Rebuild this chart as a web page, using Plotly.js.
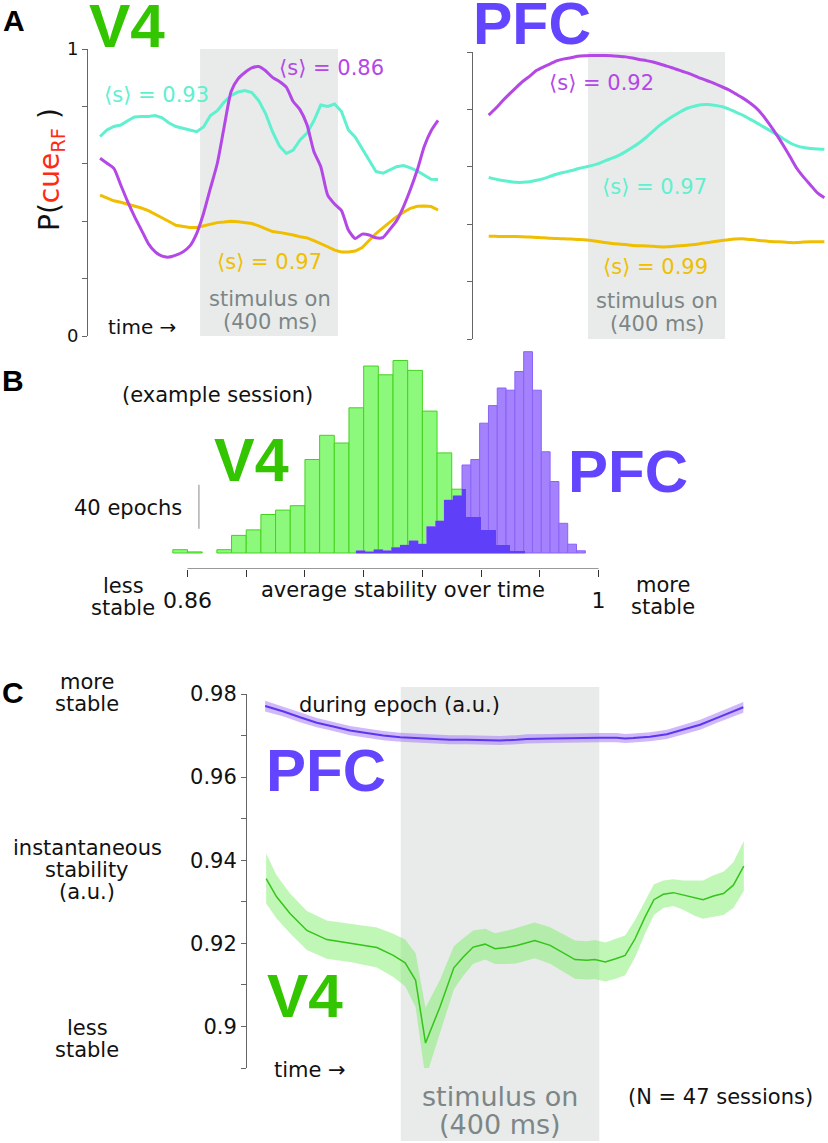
<!DOCTYPE html>
<html><head><meta charset="utf-8">
<script src="https://cdn.plot.ly/plotly-3.0.1.min.js"></script>
<style>html,body{margin:0;padding:0;background:#fff}</style>
</head><body><div id="chart" style="width:828px;height:1143px"></div>
<script>
// ---------- Panel A : decoded P(cue_RF) over time (ms, stimulus 0-400) ----------
const timeA = [-290,-270,-250,-230,-210,-190,-170,-150,-130,-110,-90,-70,-50,-30,-10,10,30,50,70,90,110,130,150,170,190,210,230,250,270,290,310,330,350,370,390,410,430,450,470,490,510,530,550,570,590,610,630,650,670,690];
const v4Cyan   = [0.695,0.718,0.730,0.735,0.750,0.763,0.765,0.765,0.768,0.760,0.742,0.730,0.724,0.718,0.712,0.728,0.768,0.785,0.815,0.838,0.850,0.855,0.848,0.820,0.775,0.712,0.662,0.636,0.648,0.683,0.707,0.750,0.805,0.800,0.808,0.782,0.718,0.693,0.654,0.616,0.573,0.567,0.578,0.590,0.594,0.586,0.575,0.560,0.546,0.545];
const v4Purple = [0.619,0.602,0.584,0.526,0.468,0.416,0.369,0.322,0.293,0.278,0.275,0.282,0.293,0.313,0.357,0.427,0.515,0.602,0.730,0.852,0.896,0.918,0.934,0.939,0.924,0.901,0.887,0.867,0.817,0.788,0.736,0.643,0.590,0.491,0.460,0.437,0.369,0.340,0.355,0.352,0.342,0.343,0.371,0.402,0.451,0.511,0.579,0.660,0.715,0.751];
const v4Yellow = [0.491,0.480,0.471,0.466,0.460,0.453,0.446,0.437,0.425,0.413,0.399,0.386,0.381,0.378,0.378,0.383,0.390,0.395,0.397,0.400,0.398,0.396,0.392,0.384,0.375,0.364,0.361,0.357,0.352,0.346,0.342,0.332,0.322,0.311,0.299,0.293,0.293,0.296,0.308,0.332,0.357,0.377,0.398,0.416,0.431,0.445,0.452,0.453,0.451,0.439];
const pfcPurple = [0.780,0.803,0.829,0.853,0.876,0.898,0.916,0.936,0.948,0.959,0.970,0.976,0.980,0.985,0.987,0.988,0.988,0.988,0.987,0.985,0.983,0.979,0.974,0.970,0.965,0.958,0.951,0.943,0.935,0.927,0.918,0.908,0.899,0.890,0.879,0.869,0.855,0.841,0.825,0.806,0.780,0.748,0.713,0.675,0.635,0.594,0.563,0.536,0.509,0.492];
const pfcCyan   = [0.563,0.557,0.552,0.549,0.546,0.546,0.548,0.553,0.559,0.567,0.575,0.581,0.586,0.593,0.599,0.604,0.611,0.621,0.630,0.640,0.653,0.668,0.684,0.703,0.724,0.745,0.762,0.778,0.792,0.804,0.811,0.816,0.817,0.814,0.810,0.802,0.791,0.781,0.768,0.755,0.741,0.727,0.713,0.698,0.683,0.673,0.667,0.664,0.662,0.661];
const pfcYellow = [0.358,0.358,0.357,0.357,0.357,0.356,0.355,0.354,0.353,0.351,0.350,0.349,0.348,0.347,0.346,0.343,0.340,0.336,0.333,0.331,0.329,0.326,0.325,0.324,0.323,0.321,0.321,0.323,0.325,0.327,0.329,0.333,0.336,0.340,0.343,0.346,0.348,0.349,0.347,0.345,0.342,0.340,0.339,0.338,0.336,0.336,0.338,0.339,0.339,0.339];
const labelsV4  = ['⟨s⟩ = 0.93','⟨s⟩ = 0.86','⟨s⟩ = 0.97'];
const labelsPFC = ['⟨s⟩ = 0.92','⟨s⟩ = 0.97','⟨s⟩ = 0.99'];
const stimulus = [0, 400];

// ---------- Panel B : histogram of average stability (example session) ----------
const v4BinStart = 0.855, v4BinWidth = 0.005;
const v4Counts  = [3,1,0,3,16,21,35,39,43,85,107,100,132,170,162,175,166,129,91,58,33,21,7,2];
const pfcBinStart = 0.9175, pfcBinWidth = 0.003;
const pfcCounts = [2,1,3,2,5,7,11,8,24,29,48,52,80,85,118,134,150,148,165,183,148,92,65,27,8,2];
const histTicks = [0.86,0.88,0.90,0.92,0.94,0.96,0.98,1.00];
const histTickText = ['0.86','','','','','','','1'];

// ---------- Panel C : instantaneous stability (N = 47 sessions) ----------
const timeCpfc = [-273,-236,-203,-169,-136,-102,-69,-35,-1,32,66,99,133,166,200,234,254,301,334,368,401,435,452,468,502,536,569,603,636,670,690];
const pfcMean  = [0.9771,0.9758,0.9744,0.9731,0.9722,0.9712,0.9706,0.9700,0.9696,0.9694,0.9692,0.9690,0.9690,0.9689,0.9688,0.9690,0.9692,0.9693,0.9694,0.9694,0.9695,0.9695,0.9693,0.9694,0.9697,0.9703,0.9714,0.9726,0.9742,0.9758,0.9768];
const pfcSE    = [0.0013,0.0012,0.0012,0.0011,0.0011,0.0011,0.0011,0.0011,0.0011,0.0011,0.0011,0.0011,0.0011,0.0011,0.0011,0.0011,0.0011,0.0011,0.0011,0.0011,0.0011,0.0011,0.0011,0.0011,0.0011,0.0011,0.0011,0.0012,0.0012,0.0012,0.0013];
const timeCv4  = [-271,-250,-223,-189,-149,-102,-48,-15,9,30,50,79,107,126,146,170,190,213,234,270,301,351,375,391,412,433,452,472,492,510,529,549,569,593,609,630,650,670,691];
const v4Mean   = [0.9356,0.9312,0.9272,0.9231,0.9209,0.9201,0.9190,0.9171,0.9153,0.9111,0.8960,0.9047,0.9141,0.9167,0.9191,0.9198,0.9187,0.9190,0.9195,0.9207,0.9195,0.9161,0.9159,0.9161,0.9155,0.9163,0.9171,0.9211,0.9263,0.9305,0.9318,0.9322,0.9316,0.9308,0.9305,0.9314,0.9320,0.9340,0.9386];
const v4SE     = [0.0060,0.0052,0.0048,0.0047,0.0046,0.0046,0.0048,0.0052,0.0056,0.0065,0.0085,0.0065,0.0052,0.0045,0.0040,0.0037,0.0037,0.0040,0.0043,0.0043,0.0044,0.0046,0.0046,0.0047,0.0047,0.0048,0.0048,0.0045,0.0040,0.0037,0.0033,0.0032,0.0035,0.0042,0.0046,0.0050,0.0052,0.0055,0.0060];
const cTicks = [0.89,0.90,0.91,0.92,0.93,0.94,0.95,0.96,0.97,0.98];
const cTickText = ['','0.9','','0.92','','0.94','','0.96','','0.98'];

// ---------- styling ----------
const W = 828, H = 1143;
const FONT = 'DejaVu Sans, Verdana, sans-serif';
const BOLD = 'Liberation Sans, Arial, Helvetica, sans-serif';
const C_CYAN = '#5ff0cf', C_PURP = '#b448e6', C_YEL = '#efbe00';
const C_V4 = '#33c600', C_PFC = '#6445ff', C_GRAY_TXT = '#7d8686', C_STIM = '#e8ebea';
const px = v => v / W, py = v => 1 - v / H;

const traces = [];
function line(x, y, color, xa, ya, shape) {
  traces.push({type:'scatter', mode:'lines', x, y, xaxis:xa, yaxis:ya,
    line:{color, width:3, shape:shape||'linear', smoothing:0.6}, hoverinfo:'skip'});
}
line(timeA, v4Cyan, C_CYAN, 'x', 'y');
line(timeA, v4Yellow, C_YEL, 'x', 'y');
line(timeA, v4Purple, C_PURP, 'x', 'y', 'spline');
line(timeA, pfcCyan, C_CYAN, 'x2', 'y2', 'spline');
line(timeA, pfcYellow, C_YEL, 'x2', 'y2', 'spline');
line(timeA, pfcPurple, C_PURP, 'x2', 'y2', 'spline');

// histogram bars
const v4X = v4Counts.map((_, i) => v4BinStart + v4BinWidth * (i + 0.5));
const pfcX = pfcCounts.map((_, i) => pfcBinStart + pfcBinWidth * (i + 0.5));
traces.push({type:'bar', x:v4X, y:v4Counts.map(c => c || null), width:v4BinWidth, xaxis:'x3', yaxis:'y3',
  marker:{color:'#8cf97c', line:{color:'#45d21f', width:1}}, hoverinfo:'skip'});
traces.push({type:'bar', x:pfcX, y:pfcCounts, width:pfcBinWidth, xaxis:'x3', yaxis:'y3',
  marker:{color:'#a482fd', line:{color:'#8a62f7', width:1}}, hoverinfo:'skip'});
// overlap region of the two histograms (min of the two step functions)
const edges = [];
for (let i = 0; i <= v4Counts.length; i++) edges.push(v4BinStart + v4BinWidth * i);
for (let i = 0; i <= pfcCounts.length; i++) edges.push(pfcBinStart + pfcBinWidth * i);
edges.sort((a, b) => a - b);
const ovX = [], ovY = [], ovW = [];
for (let i = 0; i < edges.length - 1; i++) {
  const a = edges[i], b = edges[i + 1];
  if (b - a < 1e-7) continue;
  const m = (a + b) / 2;
  const gi = Math.floor((m - v4BinStart) / v4BinWidth), pi = Math.floor((m - pfcBinStart) / pfcBinWidth);
  const g = v4Counts[gi] || 0, p = pfcCounts[pi] || 0;
  const h = Math.min(g, p);
  if (h > 0) { ovX.push(m); ovY.push(h); ovW.push(b - a); }
}
traces.push({type:'bar', x:ovX, y:ovY, width:ovW, xaxis:'x3', yaxis:'y3',
  marker:{color:'#5f3ff7', line:{width:0}}, hoverinfo:'skip'});

// panel C bands and means
function band(t, m, se, fill, lineColor, lw) {
  traces.push({type:'scatter', mode:'lines', x:t, y:m.map((v, i) => v + se[i]), xaxis:'x4', yaxis:'y4',
    line:{width:0, color:fill}, hoverinfo:'skip'});
  traces.push({type:'scatter', mode:'lines', x:t, y:m.map((v, i) => v - se[i]), xaxis:'x4', yaxis:'y4',
    line:{width:0, color:fill}, fill:'tonexty', fillcolor:fill, hoverinfo:'skip'});
  traces.push({type:'scatter', mode:'lines', x:t, y:m, xaxis:'x4', yaxis:'y4',
    line:{width:lw, color:lineColor}, hoverinfo:'skip'});
}
band(timeCpfc, pfcMean, pfcSE, 'rgba(170,125,245,0.55)', '#5a38f0', 2);
band(timeCv4, v4Mean, v4SE, 'rgba(115,238,95,0.45)', '#35c419', 1.5);

// ---------- axes ----------
const axLine = '#666';
const hidden = {visible:false, showgrid:false, zeroline:false, fixedrange:true};
const yA = {range:[0,1], showline:true, linecolor:axLine, linewidth:1, ticks:'outside', ticklen:5, tickcolor:axLine,
  tickvals:[0,0.2,0.4,0.6,0.8,1], showgrid:false, zeroline:false, tickfont:{family:FONT, size:18, color:'#111'}};

const layout = {
  width:W, height:H, margin:{l:0, r:0, t:0, b:0}, paper_bgcolor:'#fff', plot_bgcolor:'rgba(0,0,0,0)',
  showlegend:false, barmode:'overlay', bargap:0,
  xaxis: Object.assign({}, hidden, {domain:[px(88), px(440)], range:[-325, 695.7], anchor:'y'}),
  yaxis: Object.assign({}, yA, {domain:[py(336), py(49)], anchor:'x', ticktext:['0','','','','','1']}),
  xaxis2: Object.assign({}, hidden, {domain:[px(473), 1], range:[-335.8, 700.7], anchor:'y2'}),
  yaxis2: Object.assign({}, yA, {domain:[py(339), py(52)], anchor:'x2', showticklabels:false}),
  xaxis3: {domain:[px(170), px(605)], range:[0.85404, 1.0022], anchor:'y3', showline:false, showgrid:false, zeroline:false,
    ticks:'outside', ticklen:7, tickcolor:'#333', tickvals:histTicks, ticktext:histTickText, ticklabelstandoff:5,
    tickfont:{family:FONT, size:22, color:'#111'}},
  yaxis3: Object.assign({}, hidden, {domain:[py(569), py(344)], range:[-14.55, 190], anchor:'x3'}),
  xaxis4: Object.assign({}, hidden, {domain:[px(247), 1], range:[-309.6, 860.6], anchor:'y4'}),
  yaxis4: {domain:[py(1068), py(694)], range:[0.89, 0.98], anchor:'x4', showline:true, linecolor:axLine, linewidth:1,
    ticks:'outside', ticklen:5, tickcolor:axLine, tickvals:cTicks, ticktext:cTickText, showgrid:false, zeroline:false,
    tickfont:{family:FONT, size:21, color:'#111'}},
  shapes: [
    {type:'rect', xref:'x', yref:'y', x0:stimulus[0], x1:stimulus[1], y0:0, y1:1, fillcolor:C_STIM, line:{width:0}, layer:'below'},
    {type:'rect', xref:'x2', yref:'y2', x0:stimulus[0], x1:stimulus[1], y0:0, y1:1, fillcolor:C_STIM, line:{width:0}, layer:'below'},
    {type:'rect', xref:'x4', yref:'paper', x0:stimulus[0], x1:stimulus[1], y0:py(1141), y1:py(687), fillcolor:C_STIM, line:{width:0}, layer:'below'},
    {type:'line', xref:'x3', yref:'y3', x0:histTicks[0], x1:histTicks[histTicks.length-1], y0:-14.55, y1:-14.55, line:{color:'#333', width:1}},
    {type:'line', xref:'x3', yref:'y3', x0:0.8639, x1:0.8639, y0:22, y1:62, line:{color:'#888', width:1}}
  ],
  annotations: []
};

function ann(text, x, y, size, color, extra) {
  layout.annotations.push(Object.assign({xref:'paper', yref:'paper', x:px(x), y:py(y), text, showarrow:false,
    xanchor:'center', yanchor:'middle', font:{family:FONT, size, color:color||'#111'}}, extra||{}));
}
function big(text, x, y, size, color, h) {
  const a = {xref:'paper', yref:'paper', x:px(x), y:py(y), text:'<b>'+text+'</b>', showarrow:false,
    xanchor:'center', yanchor:'middle', font:{family:BOLD, size, color}};
  if (h) a.height = h;
  layout.annotations.push(a);
}

// panel letters
big('A', 14, 20, 30, '#000', 34); big('B', 13, 381, 30, '#000'); big('C', 13, 692, 30, '#000');
// Panel A
big('V4', 127, 25, 62, C_V4, 50); big('PFC', 532, 24, 59, C_PFC, 48);
ann('P(<span style="color:#ff2a14">cue<sub>RF</sub></span> )', 52, 170, 28, '#111', {textangle:-90});
ann(labelsV4[0], 156, 95, 21, C_CYAN);
ann(labelsV4[1], 331, 68, 21, C_PURP);
ann(labelsV4[2], 269, 262, 21, C_YEL);
ann('stimulus on', 270, 299, 21, C_GRAY_TXT); ann('(400 ms)', 270, 322, 21, C_GRAY_TXT);
ann('time →', 142, 327, 20, '#111');
ann(labelsPFC[0], 601, 83, 21, C_PURP);
ann(labelsPFC[1], 654, 187, 21, C_CYAN);
ann(labelsPFC[2], 655, 267, 21, C_YEL);
ann('stimulus on', 657, 301, 21, C_GRAY_TXT); ann('(400 ms)', 657, 324, 21, C_GRAY_TXT);
// Panel B
ann('(example session)', 217, 395, 21);
ann('40 epochs', 184, 508, 21, '#111', {xanchor:'right'});
big('V4', 251, 460, 61, C_V4); big('PFC', 628, 471, 60, C_PFC);
ann('less', 123, 586, 21); ann('stable', 123, 608, 21);
ann('average stability over time', 403, 590, 21);
ann('more', 663, 585, 21); ann('stable', 663, 607, 21);
// Panel C
ann('more', 87, 682, 21); ann('stable', 87, 704, 21);
ann('instantaneous', 87, 848, 21); ann('stability', 87, 870, 21); ann('(a.u.)', 87, 892, 21);
ann('less', 87, 1028, 21); ann('stable', 87, 1050, 21);
ann('during epoch (a.u.)', 399, 705, 21);
big('PFC', 326, 770, 60, C_PFC); big('V4', 305, 995, 62, C_V4);
ann('time →', 310, 1070, 21);
ann('stimulus on', 500, 1096, 27, C_GRAY_TXT); ann('(400 ms)', 500, 1124, 27, C_GRAY_TXT);
ann('(N = 47 sessions)', 720, 1097, 21);

Plotly.newPlot('chart', traces, layout, {staticPlot:true, displayModeBar:false});
</script></body></html>
